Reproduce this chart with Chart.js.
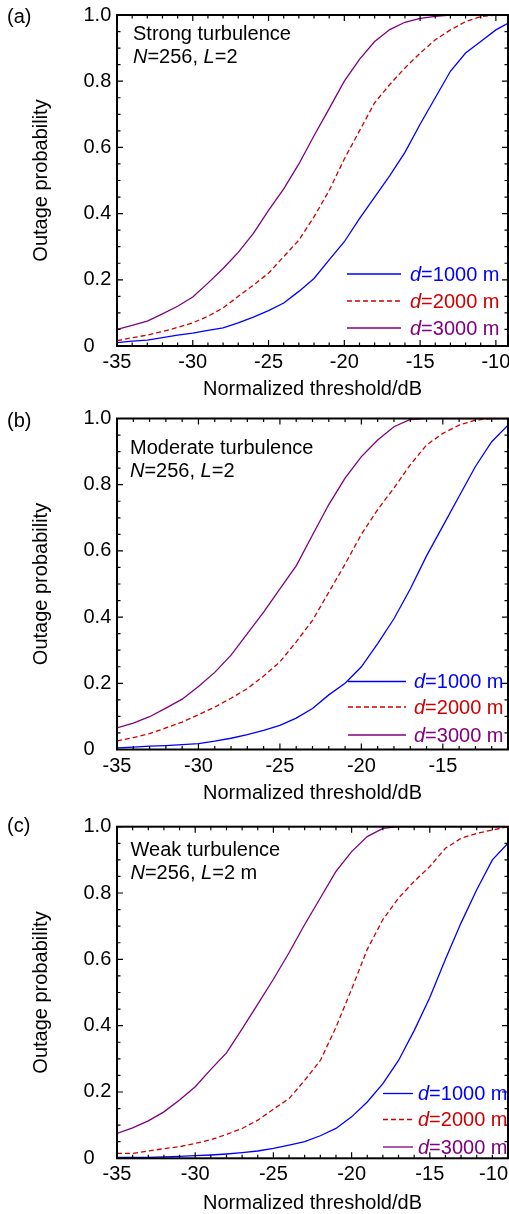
<!DOCTYPE html>
<html>
<head>
<meta charset="utf-8">
<script src="https://cdn.jsdelivr.net/npm/chart.js@4.4.1/dist/chart.umd.min.js"></script>
<style>
  html, body { margin: 0; padding: 0; background: #fff; overflow: hidden; }
  body { width: 509px; height: 1214px; position: relative; }
  canvas { position: absolute; left: 0; }
</style>
</head>
<body>
<canvas id="panelA" width="509" height="410"></canvas>
<canvas id="panelB" width="509" height="410"></canvas>
<canvas id="panelC" width="509" height="410"></canvas>
<script>
// normalized threshold (dB), shared by every curve
var thresholdDb = [-35, -34, -33, -32, -31, -30, -29, -28, -27, -26, -25, -24, -23, -22, -21,
  -20, -19, -18, -17, -16, -15, -14, -13, -12, -11, -10, -9];

// (a) strong turbulence
var strong1000 = [0.010, 0.015, 0.018, 0.025, 0.033, 0.039, 0.047, 0.055, 0.070, 0.087, 0.107, 0.130, 0.165, 0.204, 0.260,
  0.315, 0.385, 0.450, 0.515, 0.585, 0.670, 0.750, 0.830, 0.885, 0.920, 0.955, 0.980];
var strong2000 = [0.016, 0.025, 0.033, 0.044, 0.056, 0.070, 0.090, 0.115, 0.150, 0.184, 0.220, 0.270, 0.320, 0.390, 0.470,
  0.565, 0.650, 0.735, 0.790, 0.840, 0.885, 0.925, 0.955, 0.980, 0.995, 1.000, 1.000];
var strong3000 = [0.050, 0.062, 0.075, 0.097, 0.120, 0.148, 0.190, 0.234, 0.283, 0.340, 0.410, 0.475, 0.550, 0.635, 0.717,
  0.800, 0.866, 0.920, 0.956, 0.978, 0.990, 0.996, 1.000, 1.000, 1.000, 1.000, 1.000];

// (b) moderate turbulence
var moderate1000 = [0.005, 0.007, 0.010, 0.012, 0.015, 0.018, 0.025, 0.034, 0.045, 0.058, 0.073, 0.095, 0.124, 0.165, 0.200,
  0.250, 0.320, 0.395, 0.485, 0.585, 0.675, 0.765, 0.855, 0.930, 0.980];
var moderate2000 = [0.026, 0.036, 0.048, 0.065, 0.083, 0.105, 0.128, 0.155, 0.184, 0.222, 0.265, 0.325, 0.390, 0.475, 0.560,
  0.650, 0.725, 0.790, 0.860, 0.920, 0.955, 0.980, 0.995, 1.000, 1.000];
var moderate3000 = [0.065, 0.080, 0.099, 0.125, 0.152, 0.190, 0.233, 0.285, 0.350, 0.415, 0.485, 0.555, 0.648, 0.740, 0.820,
  0.885, 0.935, 0.975, 0.997, 1.000, 1.000, 1.000, 1.000, 1.000, 1.000];

// (c) weak turbulence
var weak1000 = [0.003, 0.003, 0.003, 0.004, 0.006, 0.008, 0.010, 0.013, 0.017, 0.022, 0.030, 0.040, 0.050, 0.068, 0.090,
  0.125, 0.170, 0.225, 0.295, 0.385, 0.485, 0.600, 0.710, 0.810, 0.900, 0.950];
var weak2000 = [0.015, 0.015, 0.022, 0.029, 0.035, 0.045, 0.056, 0.072, 0.090, 0.115, 0.148, 0.180, 0.235, 0.295, 0.395,
  0.510, 0.630, 0.720, 0.785, 0.835, 0.880, 0.935, 0.965, 0.980, 0.990, 1.000];
var weak3000 = [0.075, 0.092, 0.113, 0.140, 0.176, 0.216, 0.268, 0.318, 0.390, 0.465, 0.540, 0.620, 0.705, 0.785, 0.865,
  0.925, 0.970, 0.995, 1.000, 1.000, 1.000, 1.000, 1.000, 1.000, 1.000, 1.000];

var distances = ['1000', '2000', '3000'];
var xTickValues = [-35, -30, -25, -20, -15, -10];
var yTickValues = [0, 0.2, 0.4, 0.6, 0.8, 1.0];
var yTickLabels = ['0', '0.2', '0.4', '0.6', '0.8', '1.0'];

var lineColors = ['#0000ff', '#d00000', '#800080'];
var lineDashes = [[], [5, 3], []];
var FONT = "'Liberation Sans', Arial, sans-serif";

// layout of each panel (page coordinates)
var panels = [
  { id: 'panelA', tag: '(a)', regime: 'Strong turbulence', tail: '=2',
    series: [strong1000, strong2000, strong3000], xMax: -9.2,
    top: 0, plotTop: 15, plotBottom: 346, xTitleY: 389.5, tagY: 23,
    noteX: 133, noteY: [40, 63], legLine: [347, 401], legText: 410, legY: [274, 301, 328] },
  { id: 'panelB', tag: '(b)', regime: 'Moderate turbulence', tail: '=2',
    series: [moderate1000, moderate2000, moderate3000], xMax: -11,
    top: 405, plotTop: 418.5, plotBottom: 749.5, xTitleY: 793.5, tagY: 426.5,
    noteX: 130, noteY: [454, 477], legLine: [348, 406], legText: 414, legY: [681.5, 707, 735] },
  { id: 'panelC', tag: '(c)', regime: 'Weak turbulence', tail: '=2 m',
    series: [weak1000, weak2000, weak3000], xMax: -10, lastLabelRight: true,
    top: 810, plotTop: 826.7, plotBottom: 1158.3, xTitleY: 1203.3, tagY: 831.5,
    noteX: 130.5, noteY: [856, 879], legLine: [383, 413], legText: 418, legY: [1093.5, 1119.5, 1147] }
];

function toPoints(values) {
  return values.map(function (v, i) { return { x: thresholdDb[i], y: v }; });
}

// inward ticks on all four sides plus the box
var frameTicks = {
  id: 'frameTicks',
  beforeDraw: function (chart, args, opts) {
    if (!opts.lastLabelRight) return;
    var items = chart.scales.x.getLabelItems(chart.chartArea);
    if (items && items.length) items[items.length - 1].options.textAlign = 'right';
  },
  afterDraw: function (chart) {
    var ctx = chart.ctx, a = chart.chartArea, xs = chart.scales.x, ys = chart.scales.y;
    ctx.save();
    ctx.strokeStyle = '#000';
    ctx.lineWidth = 1.2;
    ctx.beginPath();
    for (var v = Math.ceil(xs.min); v <= xs.max + 1e-9; v++) {
      var px = xs.getPixelForValue(v);
      var len = (v % 5 === 0) ? 6 : 3.5;
      ctx.moveTo(px, a.bottom); ctx.lineTo(px, a.bottom - len);
      ctx.moveTo(px, a.top); ctx.lineTo(px, a.top + len);
    }
    for (var k = 0; k <= 20; k++) {
      var py = ys.getPixelForValue(k * 0.05);
      var len2 = (k % 4 === 0) ? 6 : 3.5;
      ctx.moveTo(a.left, py); ctx.lineTo(a.left + len2, py);
      ctx.moveTo(a.right, py); ctx.lineTo(a.right - len2, py);
    }
    ctx.stroke();
    ctx.lineWidth = 2;
    ctx.strokeRect(a.left, a.top, a.right - a.left, a.bottom - a.top);
    ctx.restore();
  }
};

function drawSegments(ctx, x, y, segs, color) {
  ctx.fillStyle = color;
  segs.forEach(function (s) {
    ctx.font = (s[1] ? 'italic ' : '') + '20px ' + FONT;
    ctx.fillText(s[0], x, y);
    x += ctx.measureText(s[0]).width;
  });
}

// panel tag, regime note and the legend
var labels = {
  id: 'labels',
  afterDraw: function (chart, args, p) {
    var ctx = chart.ctx, off = p.top;
    ctx.save();
    ctx.textBaseline = 'alphabetic';
    drawSegments(ctx, 7, p.tagY - off, [[p.tag, false]], '#000');
    drawSegments(ctx, p.noteX, p.noteY[0] - off, [[p.regime, false]], '#000');
    drawSegments(ctx, p.noteX, p.noteY[1] - off, [['N', true], ['=256, ', false], ['L', true], [p.tail, false]], '#000');

    for (var i = 0; i < distances.length; i++) {
      var y = p.legY[i] - off;
      ctx.strokeStyle = lineColors[i];
      ctx.lineWidth = 1.3;
      ctx.setLineDash(lineDashes[i]);
      ctx.beginPath();
      ctx.moveTo(p.legLine[0], y);
      ctx.lineTo(p.legLine[1], y);
      ctx.stroke();
      ctx.setLineDash([]);
      ctx.textBaseline = 'middle';
      drawSegments(ctx, p.legText, y + 1, [['d', true], ['=' + distances[i] + ' m', false]], lineColors[i]);
    }
    ctx.restore();
  }
};

panels.forEach(function (p) {
  var canvas = document.getElementById(p.id);
  canvas.style.top = p.top + 'px';
  var H = canvas.height;
  var axisH = p.top + H - p.plotBottom;

  new Chart(canvas, {
    type: 'line',
    data: {
      datasets: p.series.map(function (vals, i) {
        return {
          data: toPoints(vals),
          borderColor: lineColors[i],
          borderDash: lineDashes[i],
          borderWidth: 1.3,
          pointRadius: 0,
          tension: 0,
          fill: false
        };
      })
    },
    options: {
      responsive: false,
      animation: false,
      devicePixelRatio: 1,
      layout: { padding: { left: 83.5, right: 1, top: p.plotTop - p.top, bottom: 0 } },
      plugins: {
        legend: { display: false },
        tooltip: { enabled: false },
        frameTicks: { lastLabelRight: !!p.lastLabelRight },
        labels: p
      },
      scales: {
        x: {
          type: 'linear',
          min: -35,
          max: p.xMax,
          grid: { display: false, drawTicks: false },
          border: { display: false },
          ticks: {
            includeBounds: false, autoSkip: false, maxRotation: 0, padding: 4.5,
            color: '#000', font: { family: FONT, size: 20 },
            callback: function (v) { return String(v); }
          },
          afterBuildTicks: function (s) {
            s.ticks = xTickValues.filter(function (v) { return v >= s.min && v <= s.max; })
              .map(function (v) { return { value: v }; });
          },
          afterFit: function (s) { s.height = axisH; s.paddingLeft = 0; s.paddingRight = 0; },
          title: {
            display: true, text: 'Normalized threshold/dB', color: '#000',
            font: { family: FONT, size: 20 },
            padding: { top: 0, bottom: H - (p.xTitleY - p.top) - 12 }
          }
        },
        y: {
          type: 'linear',
          min: 0,
          max: 1,
          grid: { display: false, drawTicks: false },
          border: { display: false },
          ticks: {
            crossAlign: 'far', padding: 0, color: '#000', font: { family: FONT, size: 20 },
            callback: function (v, idx) { return yTickLabels[idx]; }
          },
          afterBuildTicks: function (s) {
            s.ticks = yTickValues.map(function (v) { return { value: v }; });
          },
          afterFit: function (s) { s.width = 117 - 83.5; s.paddingTop = 0; s.paddingBottom = 0; },
          title: {
            display: true, text: 'Outage probability', color: '#000',
            font: { family: FONT, size: 20 },
            padding: { top: 41.5 - 83.5 - 12, bottom: 0 }
          }
        }
      }
    },
    plugins: [frameTicks, labels]
  });
});
</script>
</body>
</html>
